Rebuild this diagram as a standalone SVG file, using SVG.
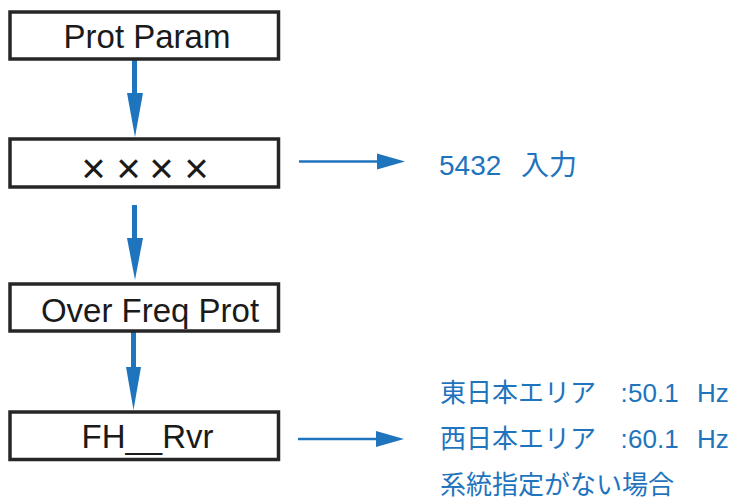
<svg xmlns="http://www.w3.org/2000/svg" width="739" height="499" viewBox="0 0 739 499">
<style>
.box{fill:#fff;stroke:#262626;stroke-width:3.5}
.lbl{font-family:"Liberation Sans",Arial,sans-serif;font-size:33px;fill:#1a1a1a;text-anchor:middle}
.note{font-family:"Liberation Sans","Noto Sans CJK JP",sans-serif;fill:#1f74be}
.shaft{stroke:#1f74be;stroke-width:5}
.hline{stroke:#1f74be;stroke-width:2.5}
.head{fill:#1f74be}
</style>
<rect width="739" height="499" fill="#fff"/>
<g id="connectors">
<line class="shaft" x1="134.5" y1="60" x2="134.5" y2="95"/>
<polygon class="head" points="127,93 143,93 135,137"/>
<line class="shaft" x1="134.5" y1="205" x2="134.5" y2="240"/>
<polygon class="head" points="127,238 143,238 135,280"/>
<line class="shaft" x1="133.5" y1="332" x2="133.5" y2="369"/>
<polygon class="head" points="126,367 141,367 133.5,410"/>
<line class="hline" x1="299" y1="161.5" x2="379" y2="161.5"/>
<polygon class="head" points="377,153.5 405,161.5 377,169.5"/>
<line class="hline" x1="298" y1="439" x2="378" y2="439"/>
<polygon class="head" points="376,431 404,439 376,447"/>
</g>
<g id="node-prot-param">
<rect class="box" x="10" y="12" width="268.5" height="47"/>
<text class="lbl" x="147" y="48">Prot Param</text>
</g>
<g id="node-xxxx">
<rect class="box" x="10" y="139" width="268.5" height="48"/>
<text class="lbl" y="182.5" style="font-size:42px"><tspan x="93.5">×</tspan><tspan x="128.5">×</tspan><tspan x="161.5">×</tspan><tspan x="196.5">×</tspan></text>
</g>
<g id="node-over-freq">
<rect class="box" x="10" y="284" width="268.5" height="47"/>
<text class="lbl" x="150" y="322">Over Freq Prot</text>
</g>
<g id="node-fh-rvr">
<rect class="box" x="10" y="412" width="268.5" height="47.5"/>
<text class="lbl" x="147.5" y="448">FH__Rvr</text>
</g>
<g id="note-5432">
<text class="note" x="439" y="175" style="font-size:28px">5432<tspan x="521">入力</tspan></text>
</g>
<g id="note-freq">
<text class="note" x="440" y="402" style="font-size:26px">東日本エリア<tspan x="620.5">:</tspan><tspan x="628">50.1</tspan><tspan x="697">Hz</tspan></text>
<text class="note" x="440" y="448" style="font-size:26px">西日本エリア<tspan x="620.5">:</tspan><tspan x="628">60.1</tspan><tspan x="697">Hz</tspan></text>
<text class="note" x="440" y="494" style="font-size:26px">系統指定がない場合</text>
</g>
</svg>
